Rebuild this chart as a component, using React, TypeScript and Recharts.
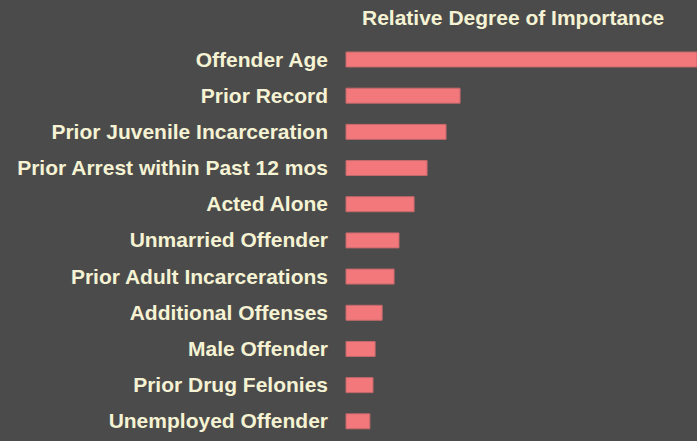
import React from 'react';
import { BarChart, Bar, XAxis, YAxis } from 'recharts';

const factors = [
  'Offender Age',
  'Prior Record',
  'Prior Juvenile Incarceration',
  'Prior Arrest within Past 12 mos',
  'Acted Alone',
  'Unmarried Offender',
  'Prior Adult Incarcerations',
  'Additional Offenses',
  'Male Offender',
  'Prior Drug Felonies',
  'Unemployed Offender',
];

// relative importance, Offender Age = 100
const importance = [100, 32.5, 28.5, 23.1, 19.4, 15.1, 13.7, 10.3, 8.3, 7.7, 6.8];

const data = factors.map((name, i) => ({ name, value: importance[i] }));

const BG = '#4b4b4b';
const TEXT = '#f5f3d3';

const App: React.FC = () => {
  return (
    <div style={{ position: 'absolute', left: 0, top: 0, width: 697, height: 441, background: BG, overflow: 'hidden' }}>
      <div
        style={{
          position: 'absolute',
          left: 362,
          width: 300,
          top: 6,
          textAlign: 'center',
          color: TEXT,
          fontFamily: '"Liberation Sans", Arial, sans-serif',
          fontWeight: 'bold',
          fontSize: 21,
          whiteSpace: 'nowrap',
        }}
      >
        Relative Degree of Importance
      </div>
      <BarChart
        layout="vertical"
        width={697}
        height={441}
        data={data}
        margin={{ top: 41, right: 0, bottom: 2, left: 0 }}
        barCategoryGap={0}
      >
        <XAxis type="number" domain={[0, 100]} hide />
        <YAxis
          type="category"
          dataKey="name"
          width={346}
          axisLine={false}
          tickLine={false}
          tickSize={0}
          tickMargin={18}
          interval={0}
          tick={{
            fill: TEXT,
            fontSize: 21,
            fontWeight: 'bold',
            fontFamily: '"Liberation Sans", Arial, sans-serif',
          }}
        />
        <Bar dataKey="value" fill="#f2787c" stroke="#c4686b" strokeWidth={1} barSize={15} isAnimationActive={false} />
      </BarChart>
    </div>
  );
};

export default App;
